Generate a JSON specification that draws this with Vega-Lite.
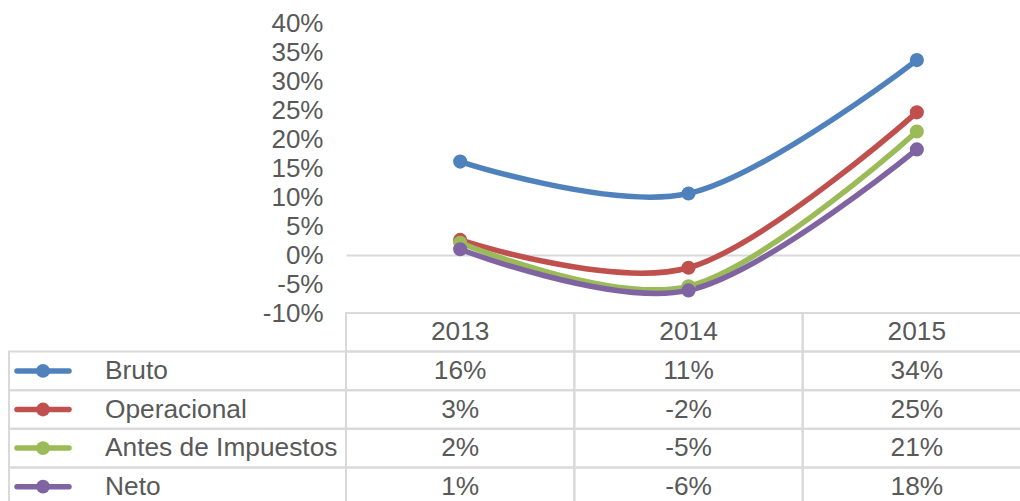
{
  "$schema": "https://vega.github.io/schema/vega-lite/v6.json",
  "width": 674,
  "height": 290,
  "autosize": {"type": "none"},
  "padding": {"left": 346, "top": 23, "right": 0, "bottom": 188},
  "background": "white",
  "config": {
    "view": {"stroke": null},
    "font": "Liberation Sans",
    "locale": {"number": {"decimal": ".", "thousands": ",", "grouping": [3], "currency": ["$", ""], "minus": "-"}},
    "text": {"font": "Liberation Sans", "fontSize": 26.3, "color": "#595959"}
  },
  "data": {
    "values": [
      {"serie": "Bruto", "year": 2013, "value": 0.161},
      {"serie": "Bruto", "year": 2014, "value": 0.106},
      {"serie": "Bruto", "year": 2015, "value": 0.336},
      {"serie": "Operacional", "year": 2013, "value": 0.026},
      {"serie": "Operacional", "year": 2014, "value": -0.022},
      {"serie": "Operacional", "year": 2015, "value": 0.246},
      {"serie": "Antes de Impuestos", "year": 2013, "value": 0.021},
      {"serie": "Antes de Impuestos", "year": 2014, "value": -0.054},
      {"serie": "Antes de Impuestos", "year": 2015, "value": 0.213},
      {"serie": "Neto", "year": 2013, "value": 0.010},
      {"serie": "Neto", "year": 2014, "value": -0.061},
      {"serie": "Neto", "year": 2015, "value": 0.182}
    ]
  },
  "resolve": {"scale": {"x": "independent", "y": "independent"}},
  "layer": [
    {
      "encoding": {
        "x": {"field": "year", "type": "ordinal", "scale": {"type": "band", "domain": [2013, 2014, 2015], "range": [0, 685], "paddingInner": 0, "paddingOuter": 0}, "axis": null},
        "y": {
          "field": "value", "type": "quantitative",
          "scale": {"domain": [-0.1, 0.4], "nice": false, "zero": false},
          "axis": {
            "values": [-0.1, -0.05, 0, 0.05, 0.1, 0.15, 0.2, 0.25, 0.3, 0.35, 0.4],
            "format": ".0%", "ticks": false, "domain": false, "labelPadding": 23,
            "labelFontSize": 26, "labelColor": "#595959", "labelFont": "Liberation Sans",
            "labelOverlap": false, "labelFlush": false, "labelBaseline": "middle",
            "grid": true, "gridColor": "#d9d9d9", "gridWidth": 2,
            "gridOpacity": {"condition": {"test": "datum.value === 0", "value": 1}, "value": 0},
            "title": null
          }
        },
        "color": {"field": "serie", "type": "nominal", "scale": {"domain": ["Bruto", "Operacional", "Antes de Impuestos", "Neto"], "range": ["#4F81BD", "#C0504D", "#9BBB59", "#8064A2"]}, "legend": null}
      },
      "layer": [
        {"mark": {"type": "line", "interpolate": "cardinal", "strokeWidth": 5.5}},
        {"mark": {"type": "point", "filled": true, "size": 200, "opacity": 1}}
      ]
    },
    {
      "encoding": {
        "x": {"field": "year", "type": "ordinal", "scale": {"type": "band", "domain": [2013, 2014, 2015], "range": [0, 685], "paddingInner": 0, "paddingOuter": 0}, "axis": null},
        "y": {"field": "serie", "type": "nominal", "scale": {"type": "band", "domain": ["header", "Bruto", "Operacional", "Antes de Impuestos", "Neto"], "range": [290, 483], "paddingInner": 0, "paddingOuter": 0}, "axis": null}
      },
      "layer": [
        {"mark": {"type": "rect", "filled": false, "stroke": "#d9d9d9", "strokeWidth": 2}},
        {
          "transform": [{"filter": "datum.serie == 'Bruto'"}],
          "mark": {"type": "rect", "filled": false, "stroke": "#d9d9d9", "strokeWidth": 2},
          "encoding": {"y": {"datum": "header", "type": "nominal"}}
        },
        {
          "transform": [{"filter": "datum.serie == 'Bruto'"}],
          "mark": {"type": "text", "align": "center", "baseline": "middle"},
          "encoding": {"y": {"datum": "header", "type": "nominal"}, "text": {"field": "year", "type": "nominal"}}
        },
        {
          "mark": {"type": "text", "align": "center", "baseline": "middle"},
          "encoding": {"text": {"field": "value", "type": "quantitative", "format": ".0%"}}
        }
      ]
    },
    {
      "transform": [{"filter": "datum.year == 2013"}],
      "encoding": {
        "y": {"field": "serie", "type": "nominal", "scale": {"type": "band", "domain": ["header", "Bruto", "Operacional", "Antes de Impuestos", "Neto"], "range": [290, 483], "paddingInner": 0, "paddingOuter": 0}, "axis": null},
        "color": {"field": "serie", "type": "nominal", "scale": {"domain": ["Bruto", "Operacional", "Antes de Impuestos", "Neto"], "range": ["#4F81BD", "#C0504D", "#9BBB59", "#8064A2"]}, "legend": null}
      },
      "layer": [
        {
          "mark": {"type": "rect", "filled": false, "stroke": "#d9d9d9", "strokeWidth": 2},
          "encoding": {
            "x": {"datum": "label", "type": "nominal", "scale": {"type": "band", "domain": ["label"], "range": [-337, 0], "paddingInner": 0, "paddingOuter": 0}, "axis": null},
            "color": {"value": "#d9d9d9"}
          }
        },
        {
          "mark": {"type": "point", "shape": "M-1,0L1,0", "filled": false, "strokeWidth": 5.5, "strokeCap": "round", "size": 2704, "opacity": 1},
          "encoding": {"x": {"datum": "label", "type": "nominal", "bandPosition": 0.1009}}
        },
        {
          "mark": {"type": "point", "filled": true, "size": 190, "opacity": 1},
          "encoding": {"x": {"datum": "label", "type": "nominal", "bandPosition": 0.1009}}
        },
        {
          "mark": {"type": "text", "align": "left", "baseline": "middle"},
          "encoding": {
            "x": {"datum": "label", "type": "nominal", "bandPosition": 0.2849},
            "text": {"field": "serie", "type": "nominal"},
            "color": {"value": "#595959"}
          }
        }
      ]
    }
  ]
}
